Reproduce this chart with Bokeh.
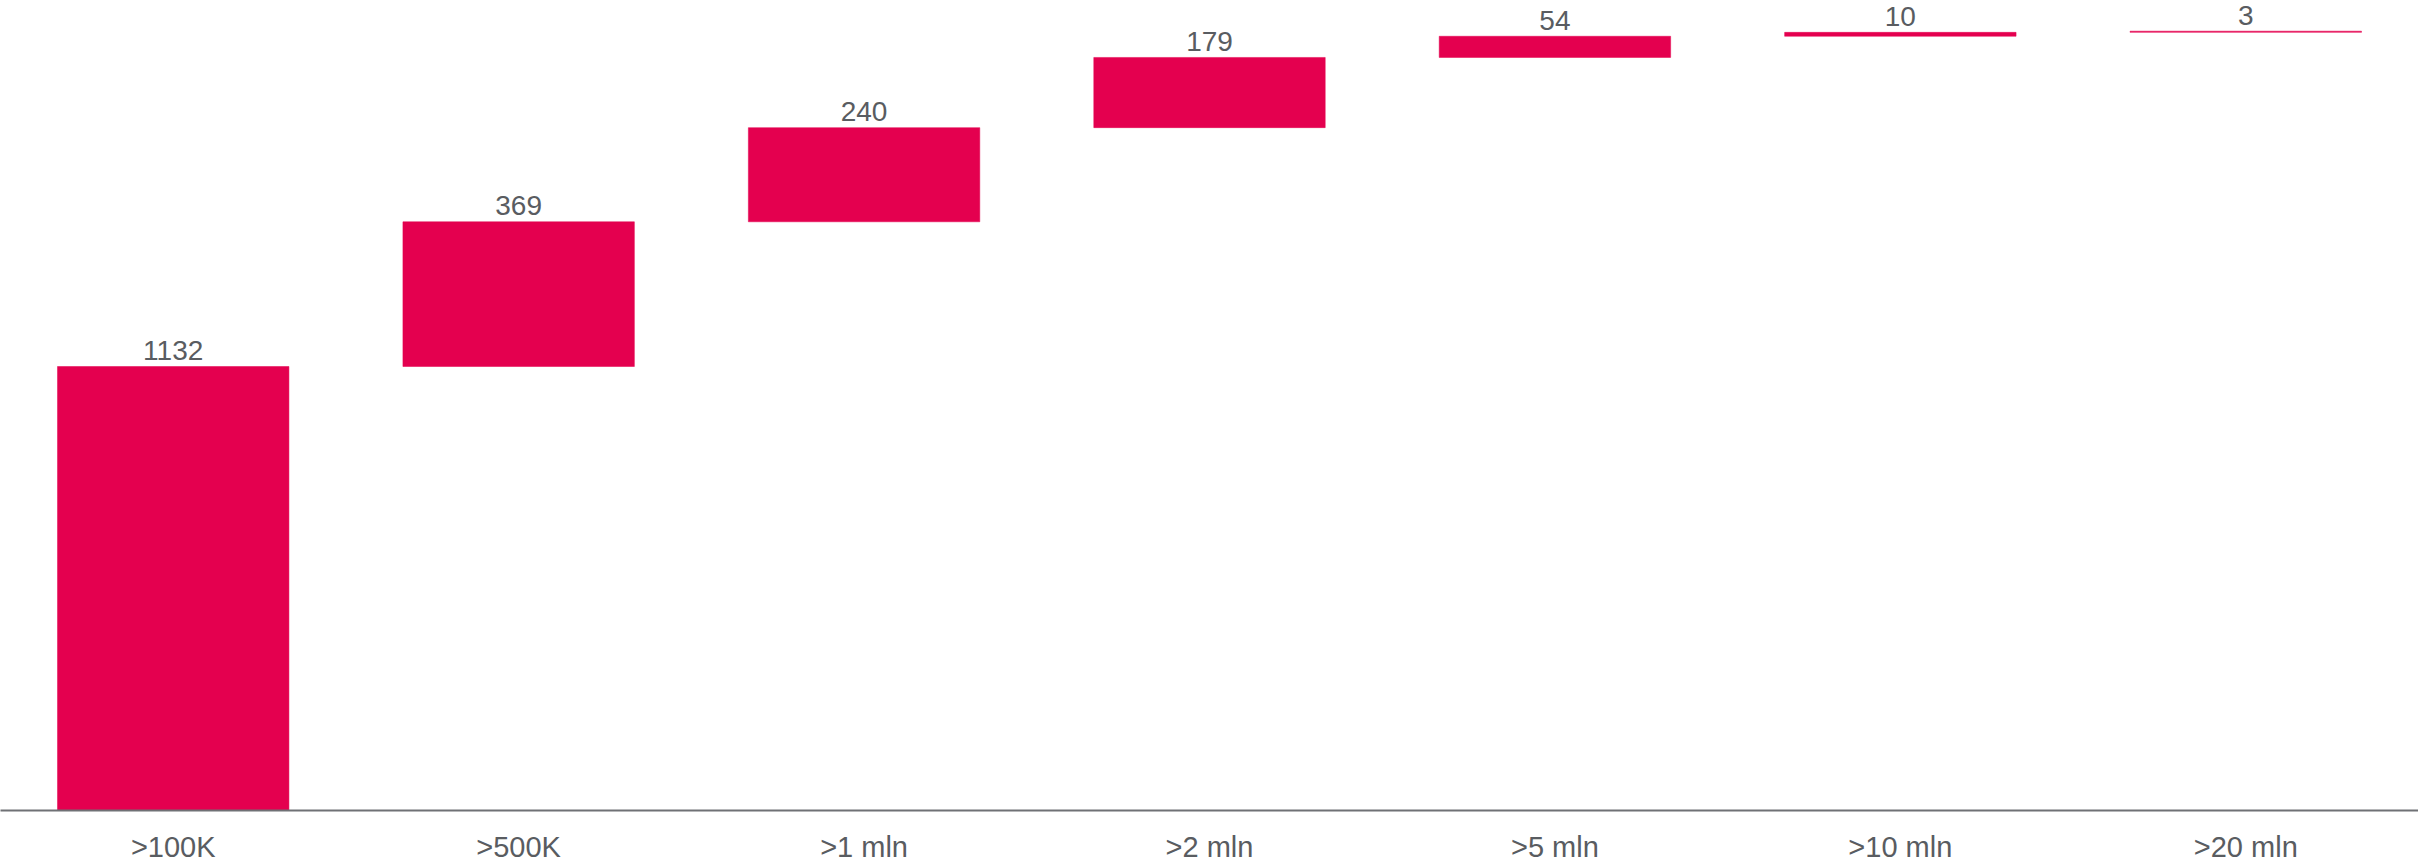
import numpy as np
from bokeh.plotting import figure
from bokeh.models import ColumnDataSource, FactorRange, Range1d
from bokeh.core.properties import value
from bokeh.embed import file_html
from bokeh.resources import INLINE

categories = [">100K", ">500K", ">1 mln", ">2 mln", ">5 mln", ">10 mln", ">20 mln"]
values = [1132, 369, 240, 179, 54, 10, 3]

tops = np.cumsum(values)
bottoms = tops - np.array(values)
labels = [str(v) for v in values]

src = ColumnDataSource(dict(x=categories, top=tops, bottom=bottoms, label=labels))

p = figure(frame_width=2418, frame_height=806, x_range=FactorRange(*categories, range_padding=0),
           y_range=Range1d(0, 2055), output_backend="svg", toolbar_location=None,
           min_border_left=0, min_border_right=0, min_border_top=4, min_border_bottom=0,
           y_axis_location=None)
p.outline_line_color = None
p.xgrid.visible = False
p.ygrid.visible = False
p.background_fill_color = "white"

p.vbar(x="x", top="top", bottom="bottom", width=0.67, source=src,
       fill_color="#E4004F", line_color="#E4004F", line_width=0.5)
labels_r = p.text(x="x", y="top", text="label", source=src, text_align="center",
                  text_baseline="middle", y_offset=-16, text_font=value("Liberation Sans"),
                  text_font_size="28px", text_color="#595c61")
labels_r.level = "overlay"

ax = p.xaxis[0]
ax.axis_line_color = "#6f7175"
ax.axis_line_width = 2
ax.major_tick_line_color = None
ax.minor_tick_line_color = None
ax.major_label_text_font = "Liberation Sans"
ax.major_label_text_font_size = "29px"
ax.major_label_text_color = "#595c61"
ax.major_label_standoff = 14

open("out.html", "w").write(file_html(p, INLINE))
